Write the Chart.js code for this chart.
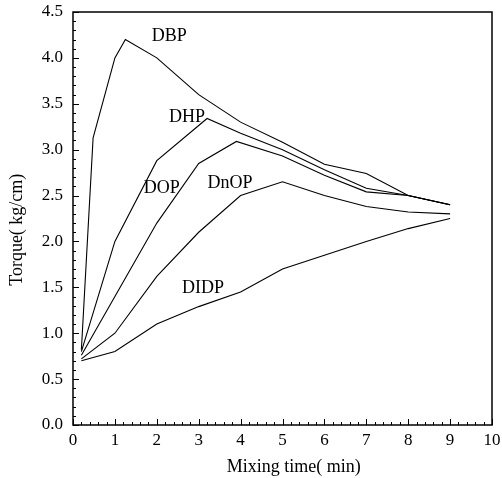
<!DOCTYPE html>
<html>
<head>
<meta charset="utf-8">
<script src="https://cdn.jsdelivr.net/npm/chart.js@4/dist/chart.umd.min.js"></script>
<style>
  body { margin: 0; background: #fff; }
  #wrap { width: 502px; height: 478px; }
</style>
</head>
<body>
<div id="wrap"><canvas id="torqueChart" width="502" height="478"></canvas></div>
<script>
// values
const dbpTime = [0.2, 0.48, 1.0, 1.25, 2.0, 3.0, 4.0, 5.0, 6.0, 7.0, 8.0, 9.0];
const dbpTorque = [0.82, 3.13, 4.0, 4.2, 4.0, 3.6, 3.3, 3.08, 2.84, 2.74, 2.5, 2.4];

const dhpTime = [0.2, 1.0, 2.0, 3.2, 4.0, 5.0, 6.0, 7.0, 8.0, 9.0];
const dhpTorque = [0.8, 2.0, 2.88, 3.34, 3.18, 3.0, 2.78, 2.58, 2.5, 2.4];

const dopTime = [0.2, 1.0, 2.0, 3.0, 3.9, 5.0, 6.0, 7.0, 8.0, 9.0];
const dopTorque = [0.76, 1.4, 2.2, 2.85, 3.09, 2.93, 2.72, 2.54, 2.5, 2.4];

const dnopTime = [0.2, 1.0, 2.0, 3.0, 4.0, 5.0, 6.0, 7.0, 8.0, 9.0];
const dnopTorque = [0.72, 1.0, 1.62, 2.1, 2.5, 2.65, 2.5, 2.38, 2.32, 2.3];

const didpTime = [0.2, 1.0, 2.0, 3.0, 4.0, 5.0, 6.0, 7.0, 8.0, 9.0];
const didpTorque = [0.7, 0.8, 1.1, 1.29, 1.45, 1.7, 1.85, 2.0, 2.14, 2.25];

// where each curve name sits (data coords)
const seriesNames = ["DBP", "DHP", "DOP", "DnOP", "DIDP"];
const nameX = [2.3, 2.72, 2.12, 3.75, 3.1];
const nameY = [4.24, 3.35, 2.58, 2.63, 1.49];

function toPoints(xs, ys) {
  let pts = [];
  for (let i = 0; i < xs.length; i++) {
    pts.push({ x: xs[i], y: ys[i] });
  }
  return pts;
}

const serif = "'Liberation Serif', 'DejaVu Serif', serif";

const framePlugin = {
  id: "frame",
  afterDraw(chart) {
    const ctx = chart.ctx;
    const a = chart.chartArea;
    const xs = chart.scales.x;
    const ys = chart.scales.y;
    ctx.save();
    ctx.strokeStyle = "#000";
    ctx.lineWidth = 1.5;
    ctx.strokeRect(a.left, a.top, a.right - a.left, a.bottom - a.top);

    // inward tick marks
    ctx.lineWidth = 1;
    ctx.beginPath();
    for (let i = 0; i <= 50; i++) {
      const v = i * 0.2;
      const px = Math.round(xs.getPixelForValue(v)) + 0.5;
      const len = i % 5 == 0 ? 6 : 3;
      ctx.moveTo(px, a.bottom);
      ctx.lineTo(px, a.bottom - len);
    }
    for (let i = 0; i <= 45; i++) {
      const v = i * 0.1;
      const py = Math.round(ys.getPixelForValue(v)) + 0.5;
      const len = i % 5 == 0 ? 6 : 3;
      ctx.moveTo(a.left, py);
      ctx.lineTo(a.left + len, py);
    }
    ctx.stroke();

    // curve names
    ctx.fillStyle = "#000";
    ctx.font = "18px " + serif;
    ctx.textAlign = "center";
    ctx.textBaseline = "middle";
    for (let i = 0; i < seriesNames.length; i++) {
      ctx.fillText(seriesNames[i], xs.getPixelForValue(nameX[i]), ys.getPixelForValue(nameY[i]));
    }
    ctx.restore();
  },
};

function lineSet(label, xs, ys) {
  return {
    label: label,
    data: toPoints(xs, ys),
    borderColor: "#000",
    borderWidth: 1.1,
    pointRadius: 0,
    fill: false,
    tension: 0,
  };
}

new Chart(document.getElementById("torqueChart"), {
  type: "line",
  data: {
    datasets: [
      lineSet("DBP", dbpTime, dbpTorque),
      lineSet("DHP", dhpTime, dhpTorque),
      lineSet("DOP", dopTime, dopTorque),
      lineSet("DnOP", dnopTime, dnopTorque),
      lineSet("DIDP", didpTime, didpTorque),
    ],
  },
  options: {
    responsive: false,
    animation: false,
    layout: { padding: { top: 12, right: 10, left: 0, bottom: 0 } },
    plugins: {
      legend: { display: false },
      tooltip: { enabled: false },
    },
    scales: {
      x: {
        type: "linear",
        min: 0,
        max: 10,
        grid: { display: false, drawTicks: false },
        border: { display: false },
        ticks: {
          stepSize: 1,
          color: "#000",
          padding: 5,
          font: { family: serif, size: 17 },
        },
        title: {
          display: true,
          text: "     Mixing time( min)",
          color: "#000",
          padding: { top: 4, bottom: 0 },
          font: { family: serif, size: 18 },
        },
        afterFit(scale) {
          scale.height = 53;
          scale.paddingRight = 0;
        },
      },
      y: {
        min: 0,
        max: 4.5,
        grid: { display: false, drawTicks: false },
        border: { display: false },
        ticks: {
          stepSize: 0.5,
          color: "#000",
          padding: 10,
          font: { family: serif, size: 17 },
          callback: (v) => v.toFixed(1),
        },
        title: {
          display: true,
          text: "Torque( kg/cm)     ",
          color: "#000",
          padding: { top: 6, bottom: 0 },
          font: { family: serif, size: 18 },
        },
        afterFit(scale) {
          scale.width = 73;
          scale.paddingTop = 0;
          scale.paddingBottom = 0;
        },
      },
    },
  },
  plugins: [framePlugin],
});
</script>
</body>
</html>
